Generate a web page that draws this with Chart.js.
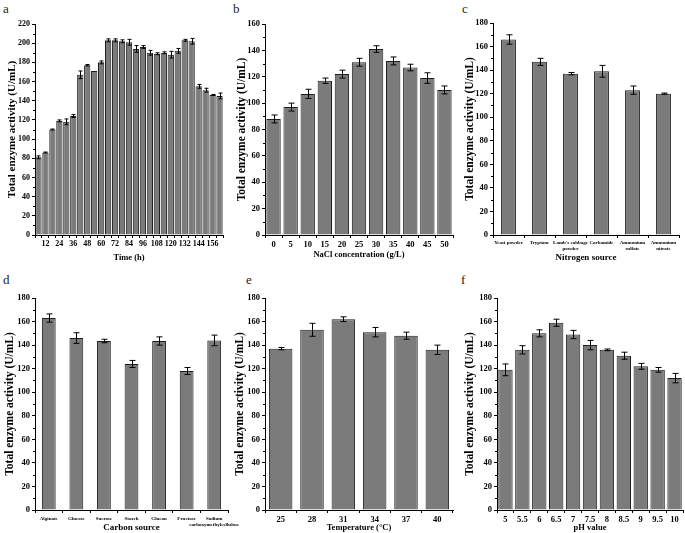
<!DOCTYPE html>
<html>
<head>
<meta charset="utf-8">
<script src="https://cdn.jsdelivr.net/npm/chart.js@4.4.1/dist/chart.umd.min.js"></script>
<style>
  body { margin: 0; background: #fff; width: 685px; height: 533px; position: relative; overflow: hidden; font-family: "Liberation Serif", "Times New Roman", serif; }
  .box { position: absolute; }
  .tag { position: absolute; font-family: "Liberation Serif", "Times New Roman", serif; font-size: 13px; color: #222; line-height: 13px; }
</style>
</head>
<body>
<div class="tag" style="left:3px;top:2px">a</div>
<div class="tag" style="left:233px;top:2px">b</div>
<div class="tag" style="left:462px;top:2px">c</div>
<div class="tag" style="left:3px;top:273px">d</div>
<div class="tag" style="left:246px;top:273px">e</div>
<div class="tag" style="left:461px;top:273px">f</div>

<div class="box" style="left:0;top:0;width:228px;height:263px"><canvas id="ca"></canvas></div>
<div class="box" style="left:228px;top:0;width:227px;height:260px"><canvas id="cb"></canvas></div>
<div class="box" style="left:455px;top:0;width:230px;height:263px"><canvas id="cc"></canvas></div>
<div class="box" style="left:0;top:265px;width:270px;height:268px"><canvas id="cd"></canvas></div>
<div class="box" style="left:228px;top:265px;width:227px;height:268px"><canvas id="ce"></canvas></div>
<div class="box" style="left:455px;top:265px;width:230px;height:268px"><canvas id="cf"></canvas></div>

<script>
// a - time course
const timeH = [6, 12, 18, 24, 30, 36, 42, 48, 54, 60, 66, 72, 78, 84, 90, 96, 102, 108, 114, 120, 126, 132, 138, 144, 150, 156, 162];
const timeAct = [81, 86, 110, 119, 118, 124, 167, 177, 171, 180, 203, 203, 202, 201, 194, 196, 190, 189, 190, 188, 192, 203, 202, 155, 151, 146, 145];
const timeErr = [1.5, 0.5, 0.5, 1, 3, 1.5, 4, 0.8, 0, 1.5, 1.5, 1.5, 1.5, 3, 3.5, 1.5, 2.5, 1, 1, 3.5, 2.5, 1, 3, 2, 2, 0.5, 3];

// b - NaCl
const nacl = ['0', '5', '10', '15', '20', '25', '30', '35', '40', '45', '50'];
const naclAct = [88, 97, 107, 117, 122, 131, 141, 132, 127, 119, 110];
const naclErr = [3, 3, 3.5, 2, 3, 3, 2.5, 3, 2.5, 4, 3];

// c - nitrogen source
const nitro = ['Yeast powder', 'Tryptone', ["Lamb's cabbage", 'powder'], 'Carbamide', ['Ammonium', 'sulfate'], ['Ammonium', 'nitrate']];
const nitroAct = [166, 147, 137, 139, 123, 120];
const nitroErr = [4, 3, 1, 5, 3.5, 0.5];

// d - carbon source
const carbon = ['Alginate', 'Glucose', 'Sucrose', 'Starch', 'Glucan', 'Fructose', ['Sodium', 'carboxymethylcellulose']];
const carbonAct = [163, 146, 143.5, 124, 143.5, 118, 144];
const carbonErr = [3.5, 4.5, 1.5, 3, 3.5, 3, 4.5];

// e - temperature
const temp = ['25', '28', '31', '34', '37', '40'];
const tempAct = [137, 153, 162, 151, 148, 136];
const tempErr = [1, 5.5, 2, 4, 3, 4];

// f - pH
const ph = ['5', '5.5', '6', '6.5', '7', '7.5', '8', '8.5', '9', '9.5', '10'];
const phAct = [119, 136, 150, 159, 149, 140, 136, 131, 122, 119, 112];
const phErr = [5, 3.5, 3, 3, 3.5, 4, 0.7, 3, 2.5, 2, 4];

const serif = '"Liberation Serif", "Times New Roman", serif';

// error bars + minor y ticks
const errorBars = {
  id: 'errorBars',
  afterDatasetsDraw(chart, args, opts) {
    const ctx = chart.ctx;
    const y = chart.scales.y;
    const meta = chart.getDatasetMeta(0);
    const vals = chart.data.datasets[0].data;
    ctx.save();
    ctx.strokeStyle = '#000';
    ctx.lineWidth = 1;
    meta.data.forEach((bar, i) => {
      const e = opts.errors[i];
      if (!e) return;
      const x = Math.round(bar.x) + 0.5;
      const top = y.getPixelForValue(vals[i] + e);
      const bot = y.getPixelForValue(vals[i] - e);
      ctx.beginPath();
      ctx.moveTo(x, top); ctx.lineTo(x, bot);
      ctx.moveTo(x - opts.cap, top); ctx.lineTo(x + opts.cap, top);
      ctx.moveTo(x - opts.cap, bot); ctx.lineTo(x + opts.cap, bot);
      ctx.stroke();
    });
    // minor ticks
    const left = chart.chartArea.left;
    for (let v = 10; v < y.max; v += 20) {
      const py = Math.round(y.getPixelForValue(v)) + 0.5;
      ctx.beginPath();
      ctx.moveTo(left - 2, py); ctx.lineTo(left, py);
      ctx.stroke();
    }
    ctx.restore();
  }
};

function panel(id, o) {
  new Chart(document.getElementById(id), {
    type: 'bar',
    data: {
      labels: o.labels,
      datasets: [{
        data: o.values,
        backgroundColor: '#7b7b7b',
        borderColor: '#1e1e1e',
        borderWidth: 1,
        barPercentage: o.bar,
        categoryPercentage: 1
      }]
    },
    options: {
      responsive: true,
      maintainAspectRatio: false,
      animation: false,
      layout: { padding: { top: o.top, right: o.right, left: 0, bottom: 0 } },
      plugins: {
        legend: { display: false },
        tooltip: { enabled: false },
        errorBars: { errors: o.errors, cap: o.cap }
      },
      scales: {
        x: {
          grid: { display: true, drawOnChartArea: false, drawTicks: true, tickLength: 3, color: '#000', offset: true },
          border: { color: '#000', width: 1 },
          ticks: {
            autoSkip: false, maxRotation: 0, minRotation: 0, padding: o.xpad, color: '#000',
            font: { family: serif, size: o.xfont, weight: 'bold', lineHeight: 1.1 },
            callback: o.xcb || function (v) { return this.getLabelForValue(v); }
          },
          title: { display: true, text: o.xtitle, color: '#000', padding: 0, font: { family: serif, size: o.xtfont, weight: 'bold' } },
          afterFit: s => { s.height = o.xh; s.paddingLeft = 0; s.paddingRight = 0; }
        },
        y: {
          min: 0, max: o.max,
          grid: { display: true, drawOnChartArea: false, drawTicks: true, tickLength: 3, color: '#000' },
          border: { color: '#000', width: 1 },
          ticks: { stepSize: 20, padding: 2, color: '#000', font: { family: serif, size: o.yfont, weight: 'bold' } },
          title: { display: true, text: 'Total enzyme activity (U/mL)', color: '#000', padding: { top: o.ytp, bottom: 0 }, font: { family: serif, size: o.ytfont, weight: 'bold' } },
          afterFit: s => { s.width = o.yw; }
        }
      }
    },
    plugins: [errorBars]
  });
}

panel('ca', {
  labels: timeH, values: timeAct, errors: timeErr, bar: 0.9, cap: 2, max: 220,
  top: 24, right: 5, yw: 35, xh: 28, xpad: 2, xfont: 8, xtfont: 8.5, yfont: 8, ytfont: 11, ytp: 5.5,
  xtitle: 'Time (h)',
  xcb: function (v, i) { const t = timeH[i]; return t % 12 === 0 ? String(t) : ''; }
});

panel('cb', {
  labels: nacl, values: naclAct, errors: naclErr, bar: 0.84, cap: 3, max: 160,
  top: 24, right: 2, yw: 37, xh: 25, xpad: 2, xfont: 8.5, xtfont: 8.5, yfont: 8.5, ytfont: 11.5, ytp: 7,
  xtitle: 'NaCl concentration (g/L)'
});

panel('cc', {
  labels: nitro, values: nitroAct, errors: nitroErr, bar: 0.48, cap: 3, max: 180,
  top: 23, right: 6, yw: 38, xh: 28, xpad: 2, xfont: 5, xtfont: 9, yfont: 8.5, ytfont: 11.5, ytp: 8,
  xtitle: 'Nitrogen source'
});

panel('cd', {
  labels: carbon, values: carbonAct, errors: carbonErr, bar: 0.5, cap: 3, max: 180,
  top: 33, right: 42, yw: 35, xh: 23, xpad: 3, xfont: 5, xtfont: 9, yfont: 8.5, ytfont: 11.5, ytp: 3,
  xtitle: 'Carbon source'
});

panel('ce', {
  labels: temp, values: tempAct, errors: tempErr, bar: 0.75, cap: 3, max: 180,
  top: 33, right: 2, yw: 37, xh: 23, xpad: 2, xfont: 8.5, xtfont: 8.5, yfont: 8.5, ytfont: 11.5, ytp: 5,
  xtitle: 'Temperature (°C)'
});

panel('cf', {
  labels: ph, values: phAct, errors: phErr, bar: 0.85, cap: 3, max: 180,
  top: 33, right: 2, yw: 42, xh: 23, xpad: 2, xfont: 8.5, xtfont: 8.5, yfont: 8.5, ytfont: 11.5, ytp: 8,
  xtitle: 'pH value'
});
</script>
</body>
</html>
